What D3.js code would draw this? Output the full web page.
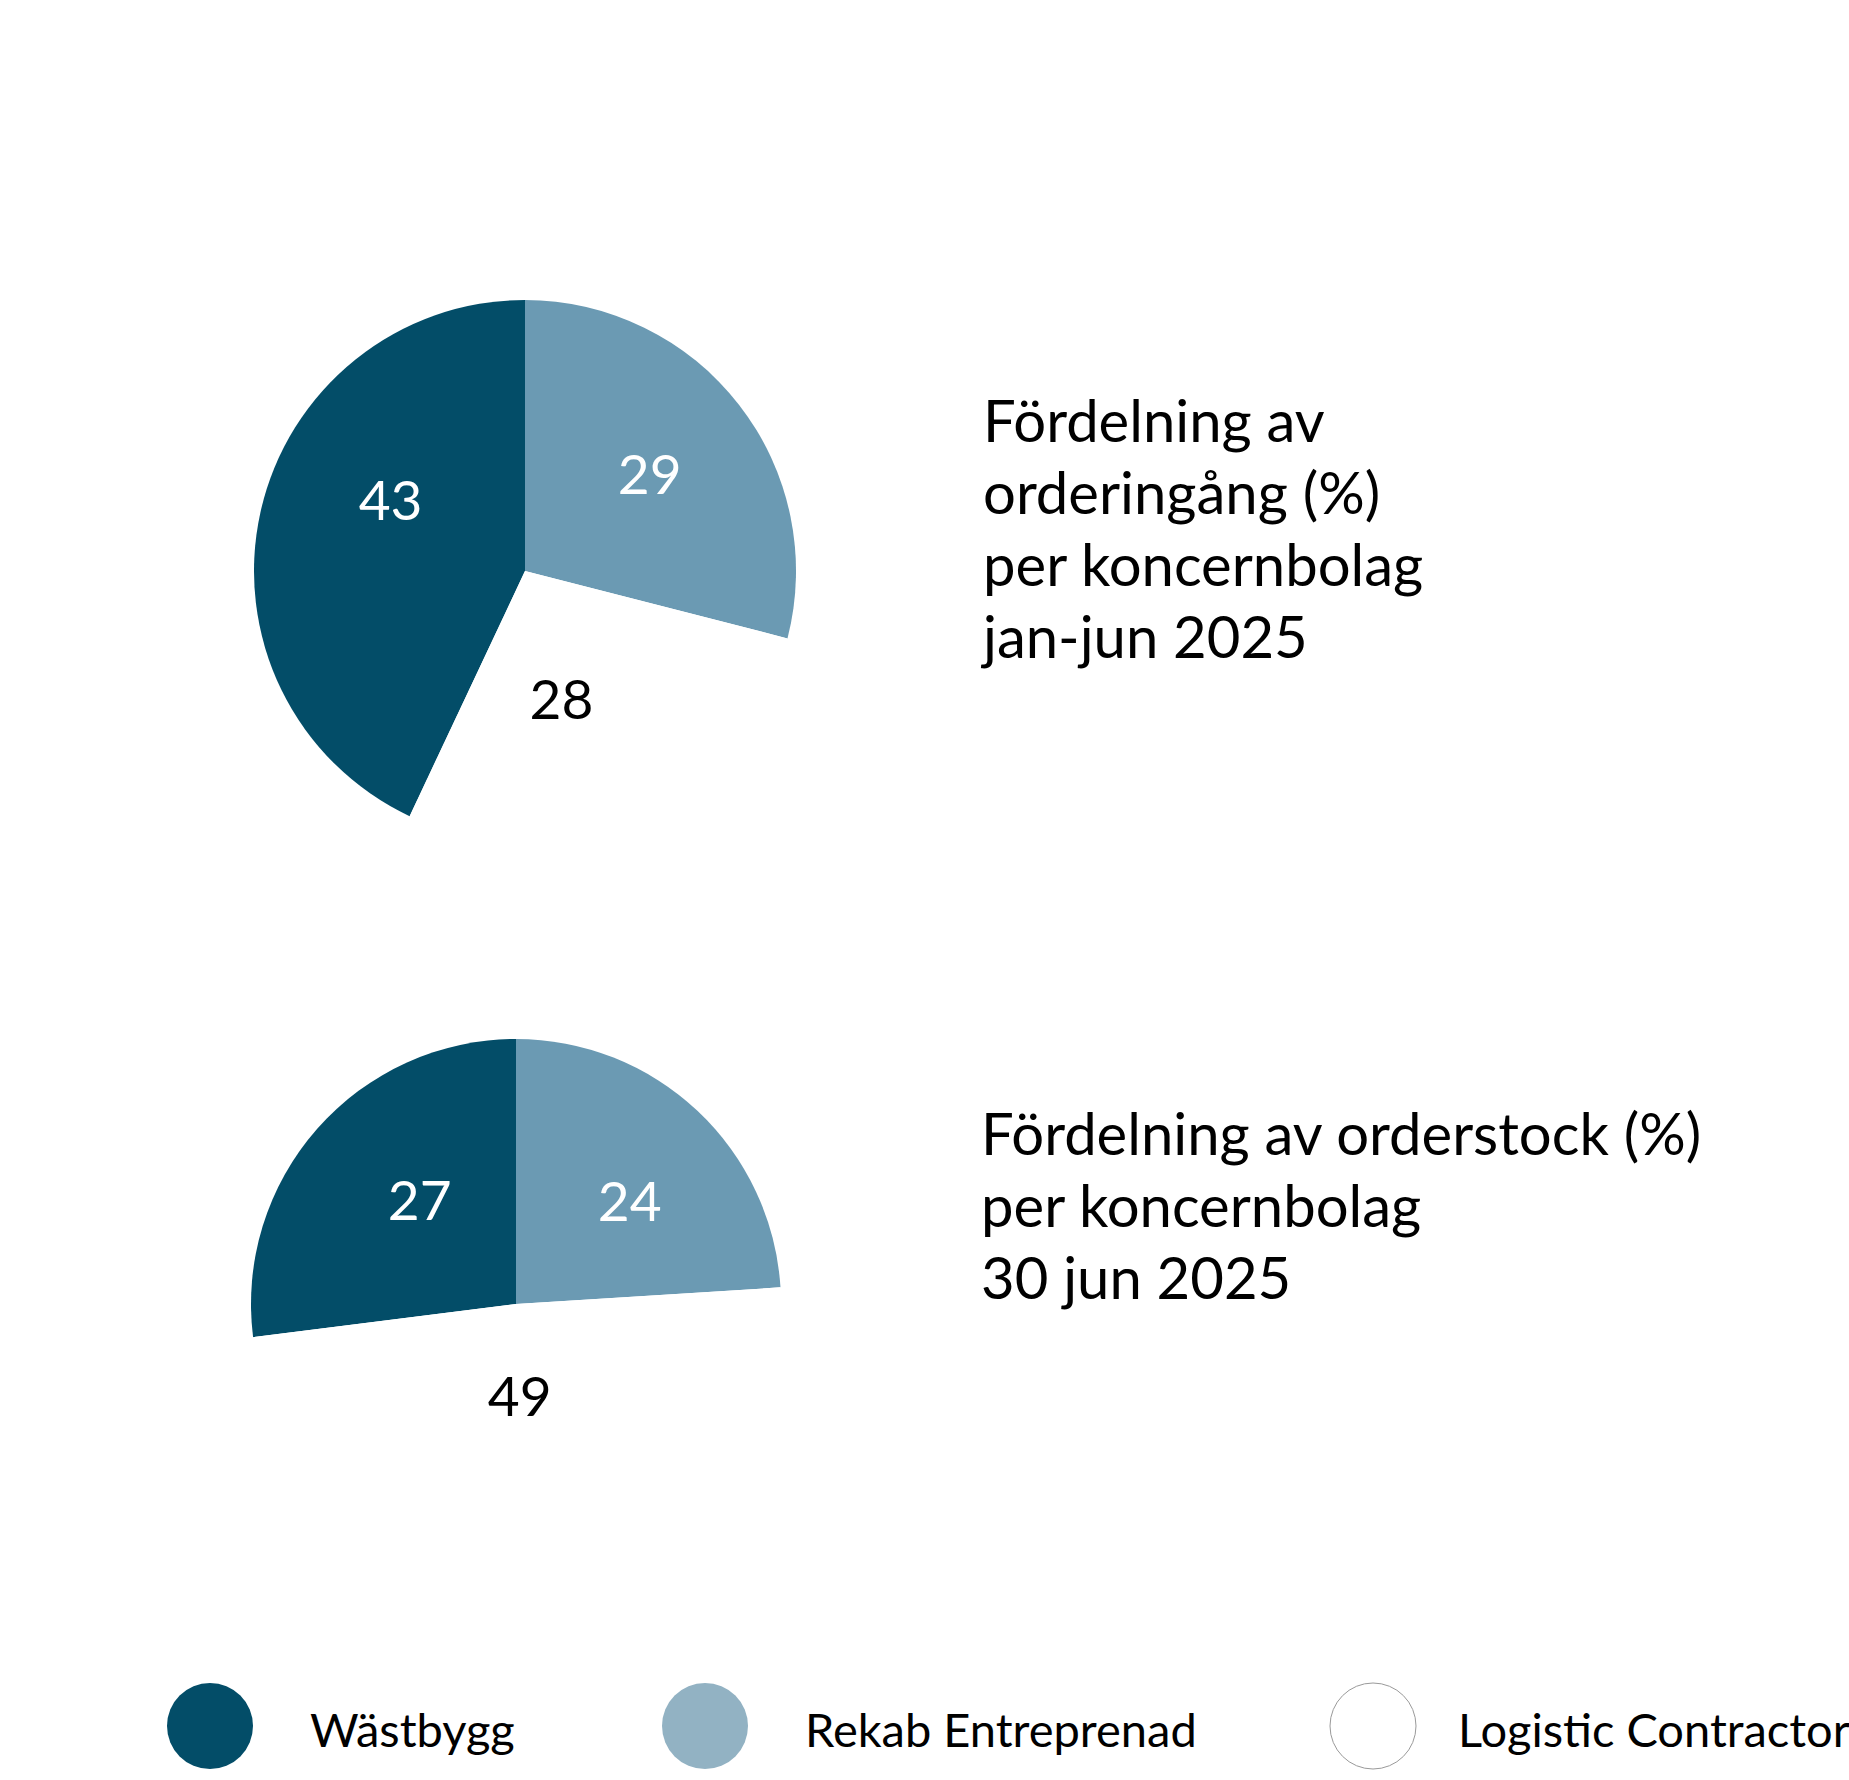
<!DOCTYPE html>
<html>
<head>
<meta charset="utf-8">
<script src="https://cdn.jsdelivr.net/npm/d3@7"></script>
<style>
  body { margin: 0; background: #fff; }
  text { font-family: Lato, "Open Sans", sans-serif; }
</style>
</head>
<body>
<div id="chart"></div>
<script>
// data
const companies = ["Wästbygg", "Rekab Entreprenad", "Logistic Contractor"]
const orderIntake = [43, 29, 28]   // jan-jun 2025
const orderBook = [27, 24, 49]     // 30 jun 2025
const titleIntake = ["Fördelning av", "orderingång (%)", "per koncernbolag", "jan-jun 2025"]
const titleBook = ["Fördelning av orderstock (%)", "per koncernbolag", "30 jun 2025"]

// styles / layout
const sliceColors = ["#034d68", "#6b9ab3", "#ffffff"]
const legendColors = ["#034d68", "#92b2c3", "#ffffff"]
const labelColors = ["#ffffff", "#ffffff", "#000000"]
const width = 1849, height = 1780

const pies = [
  {values: orderIntake, cx: 525, cy: 571, r: 271, title: titleIntake, tx: 983, ty: 442,
   nudge: [[11, -38], [7, -5], [-27, -7]]},
  {values: orderBook, cx: 516, cy: 1304, r: 265, title: titleBook, tx: 981, ty: 1155,
   nudge: [[13, -7], [14, 3], [-10, -53]]}
]

const svg = d3.select("#chart")
  .append("svg")
    .attr("width", width)
    .attr("height", height)

pies.forEach(function(p) {
  // Wästbygg ends at 12 o'clock, the rest follows clockwise
  const total = d3.sum(p.values)
  const start = -2 * Math.PI * p.values[0] / total
  const pie = d3.pie().sort(null).startAngle(start).endAngle(start + 2 * Math.PI)
  const arcs = pie(p.values)
  const arc = d3.arc().innerRadius(0).outerRadius(p.r)
  const labelArc = d3.arc().innerRadius(p.r * 0.55).outerRadius(p.r * 0.55)

  const g = svg.append("g")
    .attr("transform", "translate(" + p.cx + "," + p.cy + ")")

  g.selectAll("path")
    .data(arcs)
    .join("path")
      .attr("fill", (d, i) => sliceColors[i])
      .attr("d", arc)

  g.selectAll("text")
    .data(arcs)
    .join("text")
      .attr("x", (d, i) => labelArc.centroid(d)[0] + p.nudge[i][0])
      .attr("y", (d, i) => labelArc.centroid(d)[1] + p.nudge[i][1])
      .attr("dy", "0.36em")
      .attr("text-anchor", "middle")
      .attr("font-size", 55)
      .attr("fill", (d, i) => labelColors[i])
      .text(d => d.data)

  svg.append("text")
    .attr("x", p.tx)
    .attr("y", p.ty)
    .attr("font-size", 58)
    .attr("fill", "#000")
    .selectAll("tspan")
    .data(p.title)
    .join("tspan")
      .attr("x", p.tx)
      .attr("dy", (d, i) => i == 0 ? 0 : 72)
      .text(d => d)
})

// legend
const legendXpos = [210, 705, 1373]

const legend = svg.append("g")
  .selectAll("g")
  .data(companies)
  .join("g")
    .attr("transform", (d, i) => "translate(" + legendXpos[i] + ",1726)")

legend.append("circle")
  .attr("r", 43)
  .attr("fill", (d, i) => legendColors[i])
  .attr("stroke", (d, i) => i == 2 ? "#9a9a9a" : "none")
  .attr("stroke-width", 1)

legend.append("text")
  .attr("x", (d, i) => i == 2 ? 85 : 100)
  .attr("y", 21)
  .attr("font-size", 47)
  .attr("fill", "#000")
  .text(d => d)
</script>
</body>
</html>
